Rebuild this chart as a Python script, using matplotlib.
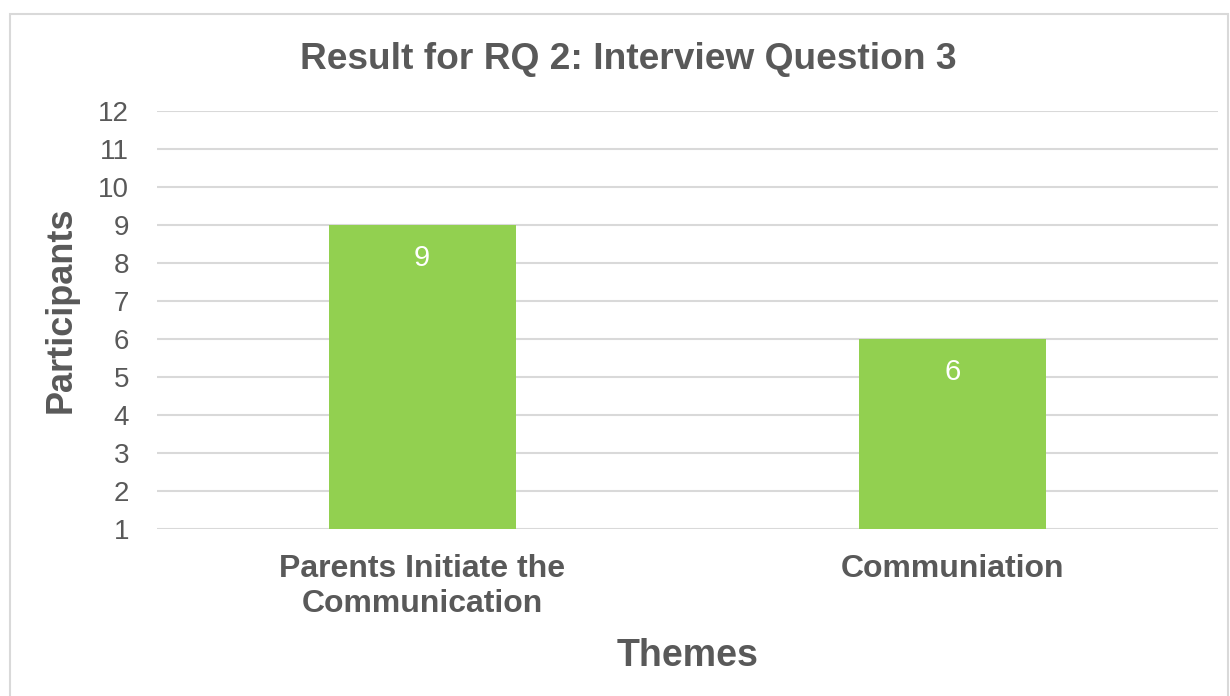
import matplotlib.pyplot as plt
from matplotlib.patches import Rectangle

# data
themes = ["Parents Initiate the\nCommunication", "Communiation"]
participants = [9, 6]
y_ticks = list(range(1, 13))

text_color = "#595959"
grid_color = "#D9D9D9"
bar_color = "#92D050"

plt.rcParams["font.family"] = ["Liberation Sans", "DejaVu Sans"]

fig = plt.figure(figsize=(12.3, 6.96), dpi=100)
ax = fig.add_axes([0.1276, 0.240, 0.8624, 0.6005])

x = range(len(themes))
bars = ax.bar(x, participants, width=0.353, color=bar_color, zorder=3)

# value labels just inside the top of each bar
for b, v in zip(bars, participants):
    ax.annotate(str(v), (b.get_x() + b.get_width() / 2, v), xytext=(0, -23.5),
                textcoords="offset points", ha="center", va="center",
                color="white", fontsize=21, zorder=4)

ax.set_xlim(-0.5, len(themes) - 0.5)
ax.set_ylim(1, 12)
ax.set_yticks(y_ticks)
ax.set_xticks(list(x))
ax.set_xticklabels(themes, fontsize=23, fontweight="bold", color=text_color,
                   linespacing=1.2)
ax.tick_params(axis="y", labelsize=20, labelcolor=text_color, length=0, pad=20)
ax.tick_params(axis="x", length=0, pad=18)
ax.grid(axis="y", color=grid_color, linewidth=1.5, zorder=0)
for s in ax.spines.values():
    s.set_visible(False)

ax.set_ylabel("Participants", fontsize=26, fontweight="bold", color=text_color)
ax.yaxis.set_label_coords(-0.074, 0.524)
ax.set_xlabel("Themes", fontsize=27, fontweight="bold", color=text_color,
              labelpad=14)
fig.text(0.511, 0.915, "Result for RQ 2: Interview Question 3", ha="center",
         va="center", fontsize=26.7, fontweight="bold", color=text_color)

fig.patches.append(Rectangle((10 / 1230, -0.01), 1218 / 1230, 1 - 14 / 696 + 0.01,
                             transform=fig.transFigure, fill=False,
                             edgecolor="#D9D9D9", linewidth=1.5))

fig.savefig("out.png", dpi=100)
